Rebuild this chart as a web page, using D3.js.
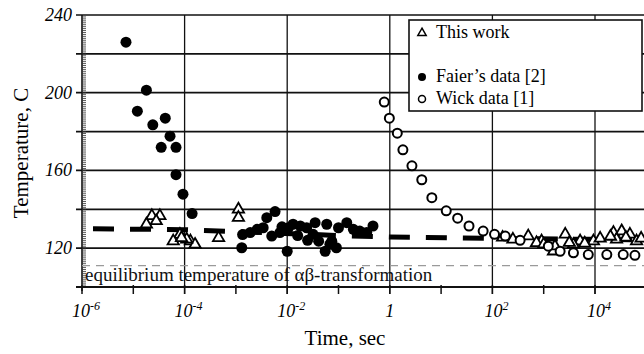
<!DOCTYPE html>
<html>
<head>
<meta charset="utf-8">
<script src="https://cdn.jsdelivr.net/npm/d3@7"></script>
<style>
  body { margin: 0; background: #fff; }
  svg { display: block; }
  svg text { font-family: "Liberation Serif", "Times New Roman", "DejaVu Serif", serif; }
</style>
</head>
<body>
<div class="chart"></div>
<script>
const FRAME_WIDTH = 644;
const FRAME_HEIGHT = 354;
const MARGINS = {left: 82, top: 15, bottom: 67};
const SERIF = "'Liberation Serif', 'Times New Roman', serif";

// Faier's data [2]: time (s), temperature (C)
const FAIER_TIME = [7.2e-6, 1.8e-5, 1.2e-5, 2.4e-5, 4.2e-5, 5.2e-5, 3.5e-5, 6.8e-5, 6.8e-5, 9.3e-5, 1.4e-4,
  1.3e-3, 1.35e-3, 1.9e-3, 2.6e-3, 3.4e-3, 4.0e-3, 5.8e-3, 5.0e-3, 7.2e-3, 1.0e-2, 1.05e-2, 1.3e-2, 1.8e-2,
  2.4e-2, 3.5e-2, 3.2e-2, 4.1e-2, 5.5e-2, 5.9e-2, 7.4e-2, 9.1e-2, 0.1, 0.145, 0.195, 0.26, 0.355, 0.47,
  6.8e-2, 2.5e-2, 1.6e-2, 7.9e-3];
const FAIER_TEMP = [226, 201.3, 190.5, 183.5, 186.9, 177.6, 171.9, 171.9, 157.8, 147.8, 137.8,
  120.2, 127, 128, 129.7, 130.5, 135.7, 138.8, 126.2, 128, 118.4, 130.5, 132.3, 131.4,
  130.5, 133.1, 127.1, 123.6, 118.4, 132.3, 123.6, 120.2, 130.5, 133.1, 129.7, 128.8, 128, 131.4,
  122, 124, 126.5, 131];

// Wick data [1]
const WICK_TIME = [0.78, 0.98, 1.4, 1.8, 2.7, 4.2, 6.6, 12.6, 21, 35, 66, 110, 178, 347, 1230, 2090,
  3800, 7400, 17000, 35500, 60000];
const WICK_TEMP = [195.2, 186.9, 179.2, 170.6, 162.4, 155.2, 146, 139.2, 135.4, 131.4, 128.8, 127.1,
  126.2, 124, 121, 118.4, 117.6, 116.7, 116.7, 116.7, 116.3];

// This work
const WORK_TIME = [2.3e-5, 3.3e-5, 2.8e-5, 1.8e-5, 8.1e-5, 6.0e-5, 1.3e-4, 1.6e-4, 1.1e-4, 8.7e-5, 4.6e-4,
  1.12e-3, 1.12e-3, 500, 910, 1550, 2630, 1660, 5130, 9330, 22900, 33100, 47900, 724, 3800, 26300, 64600,
  158, 251, 1000, 3160, 6300, 12600, 20000, 40000, 79400];
const WORK_TEMP = [136.6, 136.6, 134, 132.3, 127, 123.6, 123.6, 121.9, 124.5, 125.3, 125.3,
  140, 135.7, 126.2, 123.6, 118.4, 127.1, 121, 123.6, 123.6, 128, 128.8, 127.1, 122.7, 121.9, 124.5, 123.6,
  125.5, 124.5, 122, 122.8, 122.5, 125, 126, 125.5, 125];

// thick dashed trend line
const TREND_TIME = [1e-6, 1e-4, 1e-3, 0.1, 1, 100, 1e5];
const TREND_TEMP = [130, 129.5, 128.5, 126.5, 125.7, 125, 124.3];

const EQUILIBRIUM_TEMP = 111;

const X_GRID = [1e-4, 1e-2, 1, 1e2, 1e4];
const X_TICKS = [1e-6, 1e-5, 1e-4, 1e-3, 1e-2, 1e-1, 1, 10, 1e2, 1e3, 1e4];
const X_LABELS = [[1e-6, "10", "-6"], [1e-4, "10", "-4"], [1e-2, "10", "-2"], [1, "1", ""], [1e2, "10", "2"], [1e4, "10", "4"]];
const Y_GRID = [120, 140, 160, 180, 200, 220];
const Y_LABELS = [120, 160, 200, 240];

const SVG = d3.select(".chart").append("svg")
  .attr("width", FRAME_WIDTH)
  .attr("height", FRAME_HEIGHT)
  .attr("font-family", SERIF);

const X_SCALE = d3.scaleLog().domain([1e-6, 1e5]).range([MARGINS.left, MARGINS.left + 11 * 51.3]);
const Y_SCALE = d3.scaleLinear().domain([100, 240]).range([FRAME_HEIGHT - MARGINS.bottom, MARGINS.top]);
const BOTTOM = Y_SCALE(100);

// grid
SVG.selectAll(".hgrid").data(Y_GRID).enter().append("line")
  .attr("x1", MARGINS.left - 6).attr("x2", FRAME_WIDTH)
  .attr("y1", d => Y_SCALE(d)).attr("y2", d => Y_SCALE(d))
  .attr("stroke", "#111").attr("stroke-width", 1.7);

SVG.selectAll(".vgrid").data(X_GRID).enter().append("line")
  .attr("x1", d => X_SCALE(d)).attr("x2", d => X_SCALE(d))
  .attr("y1", MARGINS.top).attr("y2", BOTTOM + 7)
  .attr("stroke", "#111").attr("stroke-width", 1.3);

// top frame line and bottom axis
SVG.append("line").attr("x1", MARGINS.left - 6).attr("x2", FRAME_WIDTH)
  .attr("y1", Y_SCALE(240)).attr("y2", Y_SCALE(240)).attr("stroke", "#111").attr("stroke-width", 1.6);
SVG.append("line").attr("x1", MARGINS.left - 6).attr("x2", FRAME_WIDTH)
  .attr("y1", BOTTOM).attr("y2", BOTTOM).attr("stroke", "#111").attr("stroke-width", 1.8);

// decade ticks
SVG.selectAll(".xtick").data(X_TICKS).enter().append("line")
  .attr("x1", d => X_SCALE(d)).attr("x2", d => X_SCALE(d))
  .attr("y1", BOTTOM - 2).attr("y2", BOTTOM + 7)
  .attr("stroke", "#111").attr("stroke-width", 1.5);

// left axis with dense minor ticks
SVG.append("line").attr("x1", MARGINS.left).attr("x2", MARGINS.left)
  .attr("y1", MARGINS.top).attr("y2", BOTTOM + 4).attr("stroke", "#111").attr("stroke-width", 1.6);
SVG.selectAll(".ytick").data(d3.range(101, 240, 1)).enter().append("line")
  .attr("x1", MARGINS.left).attr("x2", MARGINS.left + 4)
  .attr("y1", d => Y_SCALE(d)).attr("y2", d => Y_SCALE(d))
  .attr("stroke", "#333").attr("stroke-width", 0.8);

// equilibrium line
SVG.append("line").attr("x1", MARGINS.left).attr("x2", FRAME_WIDTH)
  .attr("y1", Y_SCALE(EQUILIBRIUM_TEMP)).attr("y2", Y_SCALE(EQUILIBRIUM_TEMP))
  .attr("stroke", "#9a9a9a").attr("stroke-width", 1.2).attr("stroke-dasharray", "8,6");
SVG.append("text").attr("x", MARGINS.left + 3).attr("y", Y_SCALE(EQUILIBRIUM_TEMP) + 15)
  .attr("font-size", "19px").attr("fill", "#111")
  .text("equilibrium temperature of αβ-transformation");

// trend line
const TREND = TREND_TIME.map((t, i) => [t, TREND_TEMP[i]]);
SVG.append("path").datum(TREND)
  .attr("d", d3.line().x(d => X_SCALE(d[0])).y(d => Y_SCALE(d[1])))
  .attr("fill", "none").attr("stroke", "#000").attr("stroke-width", 5)
  .attr("stroke-dasharray", "21,16").attr("stroke-dashoffset", -11);

// this work - triangles
const TRI = d3.symbol().type(d3.symbolTriangle).size(55);
SVG.selectAll(".work").data(WORK_TIME).enter().append("path")
  .attr("d", TRI)
  .attr("transform", (d, i) => "translate(" + X_SCALE(d) + "," + Y_SCALE(WORK_TEMP[i]) + ")")
  .attr("fill", "#fff").attr("stroke", "#000").attr("stroke-width", 1.8);

// Faier - filled circles
SVG.selectAll(".faier").data(FAIER_TIME).enter().append("circle")
  .attr("cx", d => X_SCALE(d)).attr("cy", (d, i) => Y_SCALE(FAIER_TEMP[i]))
  .attr("r", 5.5).attr("fill", "#000");

// Wick - open circles
SVG.selectAll(".wick").data(WICK_TIME).enter().append("circle")
  .attr("cx", d => X_SCALE(d)).attr("cy", (d, i) => Y_SCALE(WICK_TEMP[i]))
  .attr("r", 4.5).attr("fill", "#fff").attr("stroke", "#000").attr("stroke-width", 2);

// axis labels
SVG.selectAll(".ylab").data(Y_LABELS).enter().append("text")
  .attr("x", MARGINS.left - 10).attr("y", d => Y_SCALE(d) + 6)
  .attr("text-anchor", "end").attr("font-size", "18px").attr("font-style", "italic")
  .text(d => d);

const XLAB = SVG.selectAll(".xlab").data(X_LABELS).enter().append("text")
  .attr("x", d => X_SCALE(d[0]) + (d[2] ? 4 : 0)).attr("y", BOTTOM + 30)
  .attr("text-anchor", "middle").attr("font-size", "18px").attr("font-style", "italic");
XLAB.append("tspan").text(d => d[1]);
XLAB.append("tspan").attr("dy", -7).attr("font-size", "12px").text(d => d[2]);

SVG.append("text").attr("x", 345).attr("y", 345).attr("text-anchor", "middle")
  .attr("font-size", "21px").text("Time, sec");
SVG.append("text").attr("transform", "translate(28,153) rotate(-90)")
  .attr("text-anchor", "middle").attr("font-size", "21px").text("Temperature, C");

// legend
const LEGEND = SVG.append("g");
LEGEND.append("rect").attr("x", 409).attr("y", 20).attr("width", 233).attr("height", 91)
  .attr("fill", "#fff").attr("stroke", "#111").attr("stroke-width", 1.6);
LEGEND.append("path").attr("d", d3.symbol().type(d3.symbolTriangle).size(30))
  .attr("transform", "translate(422,33)").attr("fill", "#fff").attr("stroke", "#000").attr("stroke-width", 1.5);
LEGEND.append("circle").attr("cx", 422).attr("cy", 77).attr("r", 4).attr("fill", "#000");
LEGEND.append("circle").attr("cx", 422).attr("cy", 99).attr("r", 3.5)
  .attr("fill", "#fff").attr("stroke", "#000").attr("stroke-width", 1.5);
LEGEND.selectAll(".ltext").data([["This work", 38], ["Faier’s data [2]", 82], ["Wick data [1]", 104]])
  .enter().append("text")
  .attr("x", 436).attr("y", d => d[1]).attr("font-size", "18px").text(d => d[0]);
</script>
</body>
</html>
